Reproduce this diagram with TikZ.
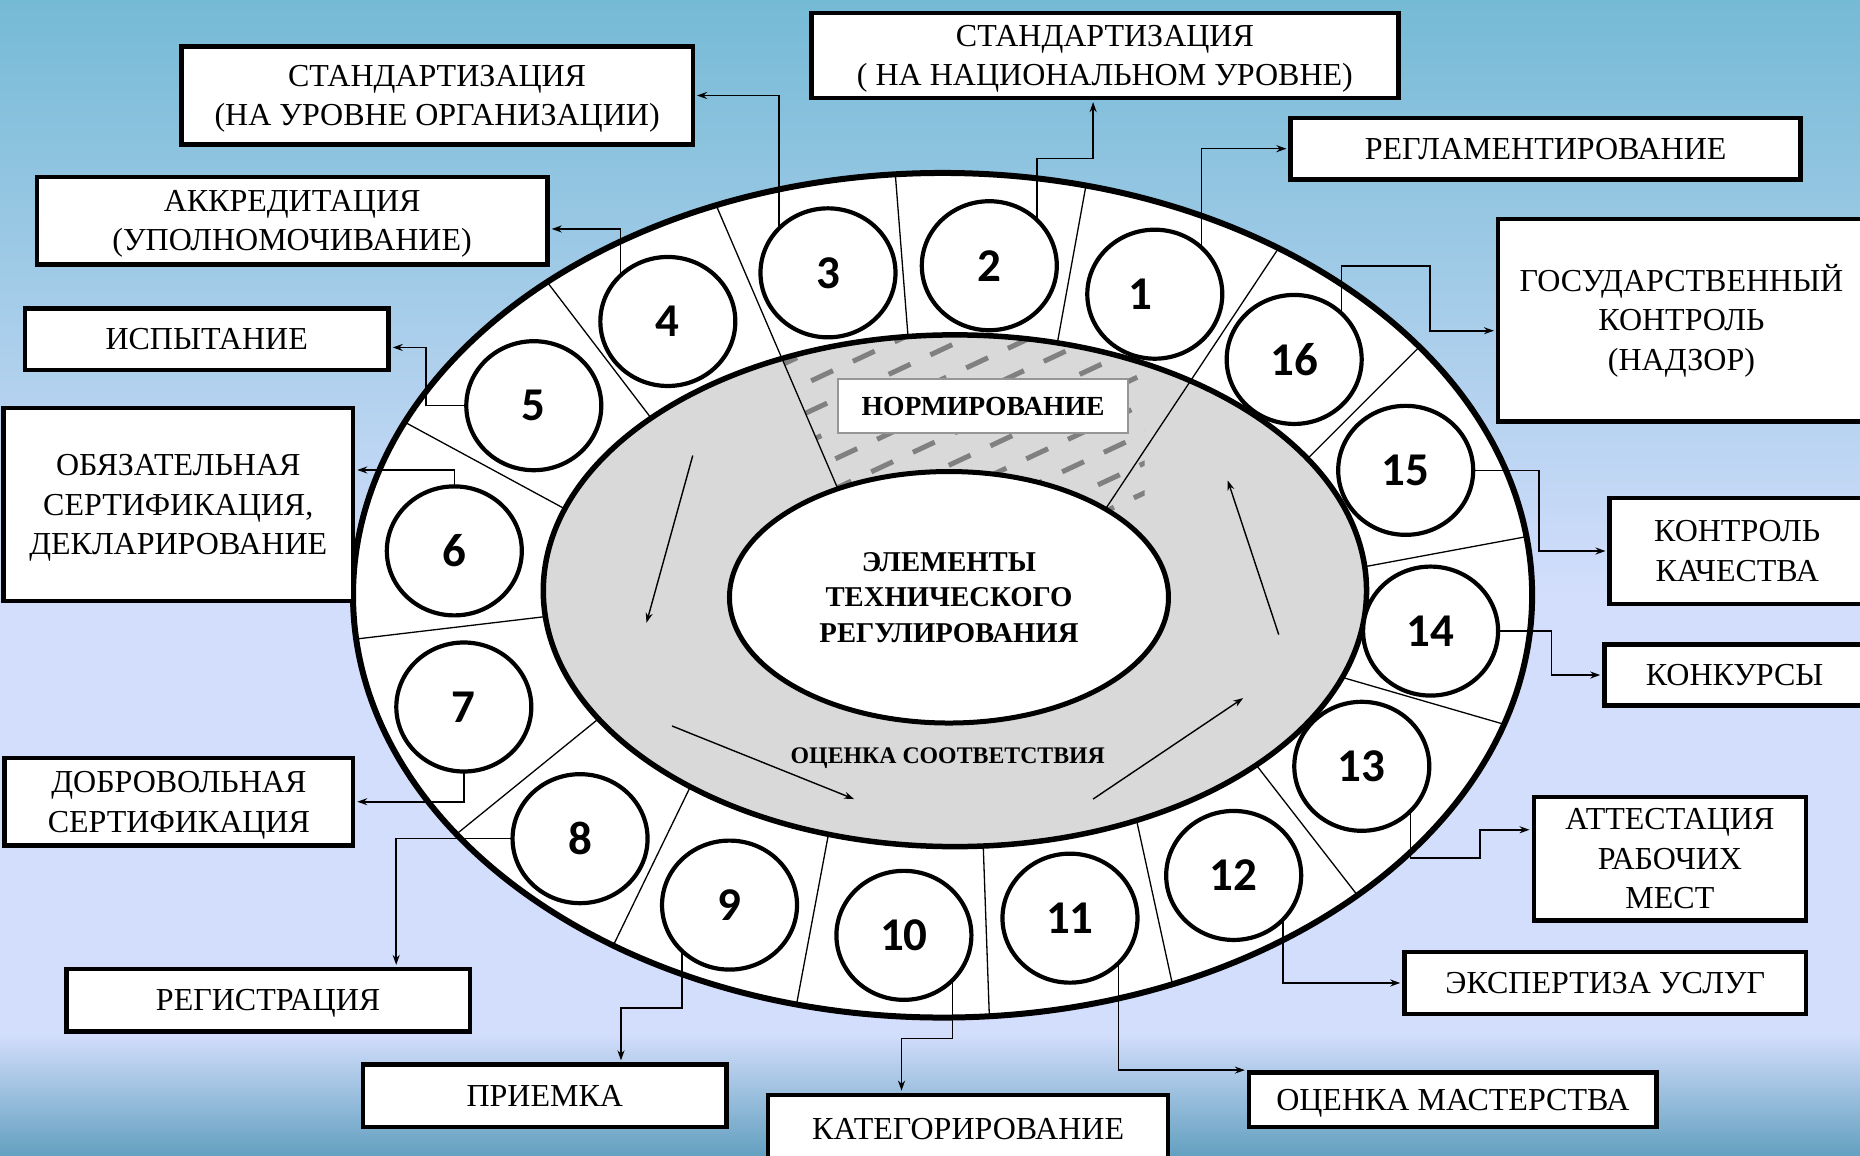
\documentclass[tikz,border=0pt]{standalone}
\usepackage{fontspec}
\setmainfont{Liberation Serif}
\newfontfamily\numfont{Carlito}
\usetikzlibrary{calc,arrows.meta,shapes.geometric}

\definecolor{bgtop}{RGB}{117,186,213}
\definecolor{bgmid}{RGB}{211,222,252}
\definecolor{bgbot}{RGB}{100,160,192}
\definecolor{ringgray}{RGB}{217,217,217}
\definecolor{hatchgray}{RGB}{128,128,128}
\definecolor{frame}{RGB}{150,150,150}

\pgfdeclarelayer{base}
\pgfdeclarelayer{links}
\pgfsetlayers{base,links,main}

% lines of a label are centred on their capitals, not on descenders
\newcommand\firstrow[1]{\rule{0pt}{21.2pt}\smash{#1}}
\newcommand\nextrow[1]{\smash{#1}}

% a framed label given by its name, two opposite corners and its text
\newcommand\labelbox[6]{%
  \node[lbl,minimum width={(#4-#2)*1.1862pt},minimum height={(#5-#3)*1.1862pt}]
    (#1) at ({(#2+#4)/2},{(#3+#5)/2}) {#6};}

\begin{document}
\begin{tikzpicture}[x=1.1862pt,y=-1.1862pt,
  conn/.style={line width=1.6pt,-{Stealth[length=10pt,width=7pt]},shorten >=2pt},
  flow/.style={line width=1.4pt,-{Stealth[length=10pt,width=7pt]}},
  spoke/.style={line width=1.3pt},
  num/.style={ellipse,draw,fill=white,line width=4.2pt,inner sep=0pt,
    minimum width=135pt,minimum height=129pt,
    font=\numfont\bfseries\fontsize{47}{47}\selectfont},
  lbl/.style={draw,fill=white,line width=4.5pt,inner sep=0pt,align=center,
    font=\fontsize{32}{39.5}\selectfont},
  hatchline/.style={line width=5pt,hatchgray,dash pattern=on 24pt off 22pt},
]
\useasboundingbox (0,0) rectangle (1568,974);

\begin{pgfonlayer}{base}
  % background
  \shade[top color=bgtop,bottom color=bgmid] (0,0) rectangle (1568,505);
  \fill[bgmid] (0,504) rectangle (1568,872);
  \shade[top color=bgmid,bottom color=bgbot] (0,871) rectangle (1568,974);

  % outer white ring
  \fill[white] (794.6,501.8) ellipse [x radius=497, y radius=356];
  \begin{scope}
    \clip (794.6,501.8) ellipse [x radius=497, y radius=356];
    \foreach \ax/\ay/\bx/\by in {
      755/150/765.5/284, 915/159/891/291, 1194/295/1104/385,
      1283.5/453/1149/478, 1262.5/609/1128/570, 1143/753/1063/650,
      988/828/960/700, 834/856/829/716.5, 672/844/697.5/708,
      517/797/584/659, 385/703/502/608, 302/538.5/458/520,
      347/359/472.5/427, 463/240/547/350}
      \draw[spoke] ($(\ax,\ay)!-0.15!(\bx,\by)$) -- ($(\bx,\by)!-0.15!(\ax,\ay)$);
  \end{scope}

  % grey ring
  \fill[ringgray] (805,498) ellipse [x radius=347, y radius=215.7];

  % hatched sector
  \begin{scope}
    \clip (805,498) ellipse [x radius=347, y radius=215.7];
    \clip (605,176) -- (715,432) -- (965,432) -- (965,176) -- cycle;
    \foreach \k in {-7,...,7}{
      \pgfmathsetmacro\ph{mod(\k*19+460,46)}
      \draw[hatchline,dash phase=\ph pt]
        ({815+\k*9.6},{335+\k*20.6}) ++(-181,84.6) -- ++(362,-169.2);
    }
  \end{scope}

  % sector boundaries crossing the grey ring
  \begin{scope}
    \clip (794.6,501.8) ellipse [x radius=497, y radius=356];
    \draw[spoke] ($(605,176)!-0.15!(705,409)$) -- ($(705,409)!-0.15!(605,176)$);
    \draw[spoke] ($(1074,215)!-0.15!(934,426)$) -- ($(934,426)!-0.15!(1074,215)$);
  \end{scope}

  \draw[line width=5.5pt] (805,498) ellipse [x radius=347, y radius=215.7];
  \draw[line width=6pt] (794.6,501.8) ellipse [x radius=497, y radius=356];

  % centre
  \node[ellipse,draw,fill=white,line width=5pt,inner sep=0pt,
    minimum width=439pt,minimum height=251.5pt,align=center,
    font=\bfseries\fontsize{28.7}{35.5}\selectfont] (core) at (800,503.5)
    {ЭЛЕМЕНТЫ\\ТЕХНИЧЕСКОГО\\РЕГУЛИРОВАНИЯ};

  \node[draw=frame,fill=white,line width=2pt,inner sep=0pt,
    minimum width=289.4pt,minimum height=53.4pt,
    font=\bfseries\fontsize{27.6}{27.6}\selectfont] (norm) at (828.7,342.3) {НОРМИРОВАНИЕ};

  \node[font=\bfseries\fontsize{23.8}{23.8}\selectfont] (conf) at (799,639) {ОЦЕНКА СООТВЕТСТВИЯ};

  % circulation arrows
  \coordinate (f1s) at (584,384);    \coordinate (f1e) at (545,525);
  \coordinate (f2s) at (566.5,612);  \coordinate (f2e) at (720,673.6);
  \coordinate (f3s) at (921.5,673.6);\coordinate (f3e) at (1048,588.5);
  \coordinate (f4s) at (1078,535);   \coordinate (f4e) at (1035,405);
  \draw[flow] (f1s) -- (f1e);
  \draw[flow] (f2s) -- (f2e);
  \draw[flow] (f3s) -- (f3e);
  \draw[flow] (f4s) -- (f4e);
\end{pgfonlayer}

% numbered elements
\node[num] (c1)  at (973.5,248) {\kern-14pt1\kern14pt};
\node[num] (c2)  at (834,224)   {2};
\node[num] (c3)  at (698,230)   {3};
\node[num] (c4)  at (563,271)   {4};
\node[num] (c5)  at (450,342)   {5};
\node[num] (c6)  at (383,464.4) {6};
\node[num] (c7)  at (391,596)   {7};
\node[num] (c8)  at (489,707)   {8};
\node[num] (c9)  at (615,763)   {9};
\node[num] (c10) at (762,788.5) {10};
\node[num] (c11) at (902,774)   {11};
\node[num] (c12) at (1040,738)  {12};
\node[num] (c13) at (1148,646)  {13};
\node[num] (c14) at (1206,532)  {14};
\node[num] (c15) at (1185,396.5){15};
\node[num] (c16) at (1091,303)  {16};

% labels
\labelbox{b1}{153}{39}{584}{122}{\firstrow{СТАНДАРТИЗАЦИЯ}\\\nextrow{(НА УРОВНЕ ОРГАНИЗАЦИИ)}}
\labelbox{b2}{684}{11}{1179}{82.5}{\firstrow{СТАНДАРТИЗАЦИЯ}\\\nextrow{( НА НАЦИОНАЛЬНОМ УРОВНЕ)}}
\labelbox{b3}{1088}{99.3}{1518}{151.4}{\firstrow{РЕГЛАМЕНТИРОВАНИЕ}}
\labelbox{b4}{1263}{184.8}{1572}{355.3}{\firstrow{ГОСУДАРСТВЕННЫЙ}\\\nextrow{КОНТРОЛЬ}\\\nextrow{(НАДЗОР)}}
\labelbox{b5}{1357}{420}{1572}{509}{\firstrow{КОНТРОЛЬ}\\\nextrow{КАЧЕСТВА}}
\labelbox{b6}{1352.6}{543.4}{1572}{594.7}{\firstrow{КОНКУРСЫ}}
\labelbox{b7}{1293}{672}{1522.5}{775.8}{\firstrow{АТТЕСТАЦИЯ}\\\nextrow{РАБОЧИХ}\\\nextrow{МЕСТ}}
\labelbox{b8}{1184}{802.6}{1522.5}{854.7}{\firstrow{ЭКСПЕРТИЗА УСЛУГ}}
\labelbox{b9}{1053}{904}{1396.6}{950}{\firstrow{ОЦЕНКА МАСТЕРСТВА}}
\labelbox{b10}{647.6}{923}{984.7}{980}{\firstrow{КАТЕГОРИРОВАНИЕ}}
\labelbox{b11}{306}{897.5}{612.5}{950}{\firstrow{ПРИЕМКА}}
\labelbox{b12}{56}{817}{396}{869.4}{\firstrow{РЕГИСТРАЦИЯ}}
\labelbox{b13}{4}{639}{297.6}{712.7}{\firstrow{ДОБРОВОЛЬНАЯ}\\\nextrow{СЕРТИФИКАЦИЯ}}
\labelbox{b14}{3}{344}{297.6}{506.5}{\firstrow{ОБЯЗАТЕЛЬНАЯ}\\\nextrow{СЕРТИФИКАЦИЯ,}\\\nextrow{ДЕКЛАРИРОВАНИЕ}}
\labelbox{b15}{21}{260}{327.5}{312}{\firstrow{ИСПЫТАНИЕ}}
\labelbox{b16}{31}{149}{461.5}{223}{\firstrow{АККРЕДИТАЦИЯ}\\\nextrow{(УПОЛНОМОЧИВАНИЕ)}}

% connectors from each element to its label
\begin{pgfonlayer}{links}
  \draw[conn] ($(c1)+(39.5,0)$) |- (b3.west);
  \draw[conn] ($(c2)+(40,0)$) |- (921.5,133.6) -- (921.5,133.6 |- b2.south);
  \draw[conn] ($(c3)+(-41.5,0)$) |- (b1.east);
  \draw[conn] ($(c4)+(-40,0)$) |- (b16.east |- 0,193);
  \draw[conn] (c5.center) -- (359,342) |- (b15.east |- 0,292.9);
  \draw[conn] (c6.center) |- (b14.east |- 0,396.2);
  \draw[conn] (c7.center) |- (b13.east);
  \draw[conn] (c8.center) -| (334,0 |- b12.north);
  \draw[conn] ($(c9)+(-40,0)$) |- (523.5,849.5) -- (523.5,849.5 |- b11.north);
  \draw[conn] ($(c10)+(41,0)$) |- (760,875.3) -- (760,875.3 |- b10.north);
  \draw[conn] ($(c11)+(41,0)$) |- (b9.north west);
  \draw[conn] ($(c12)+(41.5,0)$) |- (b8.west);
  \draw[conn] ($(c13)+(41,0)$) |- (1247.7,723.5) |- (b7.west |- 0,699.5);
  \draw[conn] (c14.center) -- (1308,532) |- (b6.west);
  \draw[conn] (c15.center) -- (1297.5,396.5) |- (b5.west);
  \draw[conn] ($(c16)+(40,0)$) |- (1205.5,224) |- (b4.west |- 0,278.8);
\end{pgfonlayer}
\end{tikzpicture}
\end{document}
